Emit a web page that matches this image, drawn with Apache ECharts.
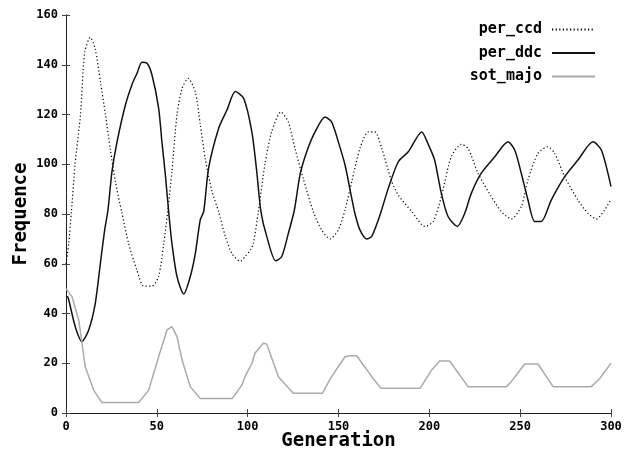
<!DOCTYPE html>
<html><head><meta charset="utf-8">
<script src="https://cdn.jsdelivr.net/npm/echarts@6/dist/echarts.min.js"></script>
<style>html,body{margin:0;padding:0;background:#fff}#c{width:625px;height:452px}</style>
</head><body><div id="c"></div>
<script>
const xTicks = [0, 50, 100, 150, 200, 250, 300];
const yTicks = [0, 20, 40, 60, 80, 100, 120, 140, 160];
const seriesNames = ['per_ccd', 'per_ddc', 'sot_majo'];
const perCcd = [[0,60],[1.5,68],[3,81],[5,100],[8,120],[10.3,145],[13.4,151],[16,146.6],[19,133],[21.7,120],[24.4,106],[27.2,93],[30.6,81],[34.5,68],[39,57.5],[42.8,51],[47.3,51],[51,55],[53.8,68],[56.1,81.6],[58.3,97],[61.1,120],[63.9,130.5],[67.2,134.5],[71.2,129],[73.9,116],[76.7,102],[80.4,89],[84,81],[87.7,71],[91.4,64],[96,61],[98.5,62.8],[101.5,65.5],[103.1,68.2],[105.9,81],[109.5,100],[113.2,113],[118.3,121],[122.4,117],[126,106.4],[130.6,94.3],[136.1,81],[140.7,73.6],[145.3,70],[149.9,73.6],[153.6,81.6],[157.3,93],[161.8,106.4],[166.4,113],[170,113],[173.8,106.4],[179.3,93],[182.9,87.6],[190.3,81],[197.6,75],[202.2,77],[206.6,87],[212.1,103],[217.6,108],[221.3,106.4],[226.8,96.4],[234.1,87],[239.6,81],[245.1,78],[250.6,83],[254.3,93.7],[259.8,104.4],[265.3,107],[269,104.4],[274.5,95],[281.8,85.6],[287.3,80.3],[291.9,78],[296.5,81.6],[300,86]];
const perDdc = [[0,47],[1.1,46.5],[5.1,34.7],[8.8,28.7],[12.5,33.4],[16.1,44],[18.9,60],[21.3,73.6],[23.1,81.6],[25.3,97],[28.1,109],[32.7,123.8],[36.3,132],[39.1,136.6],[41.8,141],[44.6,140.6],[47.3,136],[51,122.5],[52.8,109],[54.7,95.7],[56.5,81],[58.3,68.2],[61.1,54.8],[64.8,47.8],[68.4,54.8],[71.2,64.2],[73.9,77.6],[75.8,81],[78.5,98.4],[84,114.4],[88.6,121.8],[93.2,129.2],[97.8,126.5],[102.3,113],[105,97],[107.3,81],[110.5,71],[115.4,61.2],[118.7,62.8],[122.4,72.2],[125.7,81.6],[128.8,95.7],[132.5,105],[137.1,113],[142.6,119],[146.2,117],[149.9,109],[153.6,99.7],[157.3,86.3],[159.1,80],[161.8,73.6],[165.5,70],[168.3,71],[171.9,77.6],[173.6,81.3],[177.4,90.3],[182.9,101],[188.4,105],[195.8,113],[199.4,108],[202.9,101.7],[206.6,88.3],[210.3,79],[215.4,75],[219.5,80.3],[223.1,88.3],[228.6,96.4],[236,103],[243.3,109],[247,105.7],[250.6,96.4],[254.3,85.6],[258,77],[261.6,77],[267.1,85.6],[274.5,95],[281.8,101.7],[290.1,109],[294.7,105.7],[300,91]];
const sotMajo = [[0,50],[1.1,49.7],[3.3,46.8],[7,37.4],[10.6,18.6],[15.2,9.2],[19.8,4.2],[40,4.2],[45.5,9.2],[51,22.6],[55.6,33.4],[58.3,34.7],[61.1,30.7],[63.9,21.3],[68.4,10.6],[73.9,5.8],[91.4,5.8],[96.9,11.3],[98.5,14.6],[102.4,20],[104,24],[108.6,28],[110.5,27.7],[116.9,14.6],[125.1,7.9],[141.1,7.9],[146.2,14.6],[153.6,22.6],[156.3,23],[160,23],[168.3,14.6],[173.4,9.9],[194.9,9.9],[201.3,17.3],[205.7,20.9],[211.2,20.9],[221.3,10.6],[242.4,10.6],[245.1,12.6],[252.5,19.7],[259.8,19.7],[268.1,10.6],[289.2,10.6],[293.8,13.9],[300,20]];

const FONT = 'DejaVu Sans Mono';
const chart = echarts.init(document.getElementById('c'), null, {renderer: 'canvas'});
const axisLine = {show: true, lineStyle: {color: '#222', width: 1}};
const tick = {show: true, inside: true, length: 4, lineStyle: {color: '#444'}};
const lbl = {fontFamily: FONT, fontWeight: 'bold', fontSize: 12, color: '#000'};
const xMin = xTicks[0], xMax = xTicks[xTicks.length - 1], xInt = xTicks[1] - xTicks[0];
const yMin = yTicks[0], yMax = yTicks[yTicks.length - 1], yInt = yTicks[1] - yTicks[0];
chart.setOption({
  animation: false,
  backgroundColor: '#fff',
  grid: {left: 66, right: 14, top: 15, bottom: 39, containLabel: false, outerBoundsMode: 'none'},
  legend: {
    orient: 'vertical', right: 29, top: 22, align: 'right', padding: 0,
    itemWidth: 43, itemHeight: 14, itemGap: 8.5,
    itemStyle: {opacity: 0},
    textStyle: {fontFamily: FONT, fontWeight: 'bold', fontSize: 15, color: '#000', padding: [0, 5, 0, 0]},
    data: seriesNames
  },
  xAxis: [
    {type: 'value', min: xMin, max: xMax, interval: xInt, position: 'bottom',
     axisLine, axisTick: tick, splitLine: {show: false},
     axisLabel: Object.assign({margin: 8}, lbl),
     name: 'Generation', nameLocation: 'middle', nameGap: 19, nameMoveOverlap: false,
     nameTextStyle: {fontFamily: FONT, fontWeight: 'bold', fontSize: 19, color: '#000'}},
    {type: 'value', min: xMin, max: xMax, interval: xInt, position: 'top',
     axisLine, axisTick: tick, splitLine: {show: false}, axisLabel: {show: false}}
  ],
  yAxis: [
    {type: 'value', min: yMin, max: yMax, interval: yInt, position: 'left',
     axisLine, axisTick: tick, splitLine: {show: false},
     axisLabel: Object.assign({margin: 8}, lbl),
     name: 'Frequence', nameLocation: 'middle', nameGap: 35, nameMoveOverlap: false,
     nameTextStyle: {fontFamily: FONT, fontWeight: 'bold', fontSize: 19, color: '#000'}},
    {type: 'value', min: yMin, max: yMax, interval: yInt, position: 'right',
     axisLine, axisTick: tick, splitLine: {show: false}, axisLabel: {show: false}}
  ],
  series: [
    {name: seriesNames[0], type: 'line', data: perCcd, showSymbol: false, symbol: 'none',
     smooth: 0.25,
     lineStyle: {color: '#000', width: 1.2, type: [1.2, 2.4]}, itemStyle: {color: '#000'}},
    {name: seriesNames[1], type: 'line', data: perDdc, showSymbol: false, symbol: 'none',
     smooth: 0.25,
     lineStyle: {color: '#111', width: 1.5}, itemStyle: {color: '#111'}},
    {name: seriesNames[2], type: 'line', data: sotMajo, showSymbol: false, symbol: 'none',
     lineStyle: {color: '#aaa', width: 1.5}, itemStyle: {color: '#aaa'}}
  ]
});
</script></body></html>
